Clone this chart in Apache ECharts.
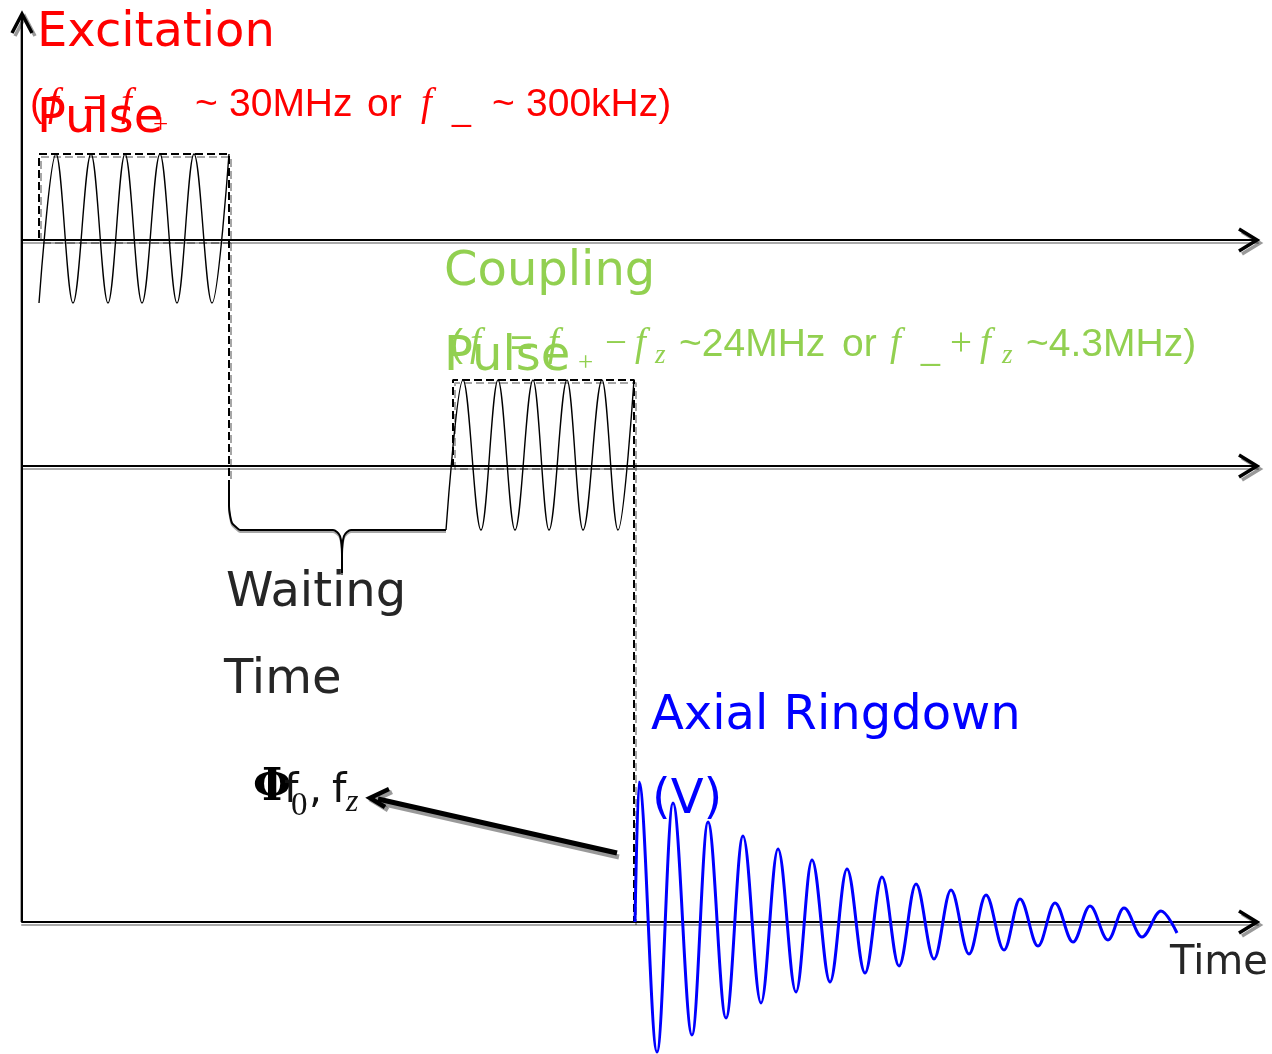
<!DOCTYPE html>
<html><head><meta charset="utf-8">
<script src="https://cdn.jsdelivr.net/npm/echarts@6/dist/echarts.min.js"></script>
<style>html,body{margin:0;padding:0;background:#fff}#c{width:1272px;height:1054px}</style>
</head><body><div id="c"></div>
<script>
// Time in arbitrary units (0 = origin of the time axis); amplitudes in arbitrary units above each trace's baseline.
const excitationWave = [[17,-63],[34,86],[51,-63],[69,86],[86,-63],[103,86],[120,-63],[138,86],[155,-63],[172,86],[190,-63],[207,86]];
const excitationEnvelope = [[207,0],[17,0],[17,86],[207,86],[207,-240]];
const waitingBraceLeft = [[207,-14],[207,-40],[208,-49],[210,-57],[214,-61],[218,-64],[311,-64],[315,-66],[318,-70],[319.5,-78],[320,-88],[320,-107]];
const waitingBraceRight = [[320,-107],[320,-88],[320.5,-78],[322,-70],[325,-66],[329,-64],[424,-64]];
const couplingWave = [[424,-64],[441,86],[459,-64],[476,86],[493,-64],[511,86],[527,-64],[545,86],[561,-64],[580,86],[596,-64],[612,86]];
const couplingEnvelope = [[612,0],[431,0],[431,86],[612,86],[612,-456]];
const ringdown = [[613,0],[617,140],[635,-130],[651,119],[670,-113],[686,100],[704,-96],[721,86],[739,-81],[756,73],[774,-70],[790,62],[808,-60],[825,53],[843,-51],[860,45],[877,-44],[894,38],[912,-37],[929,32],[947,-32],[964,27],[982,-28],[998,23],[1016,-24],[1033,19],[1051,-20],[1068,16],[1086,-18],[1102,14],[1120,-15],[1139,11],[1155,-11]];

const RED = '#ff0000', GREEN = '#92d050', BLUE = '#0000ff', DARK = '#262626';
const SANS = '"DejaVu Sans"', FSANS = '"Liberation Sans"', SERIF = '"Liberation Serif"';

function T(text, x, y, font, fill) {
  return {type:'text', x:x, y:y, silent:true, z:50,
    style:{text:text, font:font, fill:fill, align:'left', verticalAlign:'middle'}};
}
function chev(points, w) {
  return {type:'polyline', silent:true, z:60, shape:{points:points},
    style:{stroke:'#000', lineWidth:w || 3.5, fill:null, lineJoin:'miter',
      shadowColor:'rgba(0,0,0,0.4)', shadowOffsetX:3, shadowOffsetY:3}};
}

const big = '48px ' + SANS;
const fm = '39px ' + FSANS;
const fi = 'italic 39px ' + SERIF;
const fsub = 'italic 27px ' + SERIF;

const texts = [
  T('Excitation', 37, 34, big, RED),
  // red formula
  T('(', 30, 105, fm, RED), T('f', 48, 105, fi, RED), T('=', 83, 105, fm, RED),
  T('f', 121, 105, fi, RED), T('+', 153, 126, '27px ' + SERIF, RED),
  T('~', 195, 105, fm, RED), T('30MHz', 229, 105, fm, RED), T('or', 367, 105, fm, RED),
  T('f', 421, 105, fi, RED), T('_', 452, 111, '34px ' + FSANS, RED),
  T('~', 492, 105, fm, RED), T('300kHz)', 526, 105, fm, RED),
  T('Pulse', 37, 120, big, RED),

  T('Coupling', 444, 273, big, GREEN),
  // green formula
  T('(', 450, 345, fm, GREEN), T('f', 470, 345, fi, GREEN), T('=', 510, 345, fm, GREEN),
  T('f', 548, 345, fi, GREEN), T('+', 578, 364, '27px ' + SERIF, GREEN),
  T('\u2212', 605, 345, '39px ' + SERIF, GREEN), T('f', 635, 345, fi, GREEN), T('z', 655, 356, fsub, GREEN),
  T('~24MHz', 679, 345, fm, GREEN), T('or', 842, 345, fm, GREEN),
  T('f', 890, 345, fi, GREEN), T('_', 921, 350, '34px ' + FSANS, GREEN),
  T('+', 950, 345, '39px ' + SERIF, GREEN), T('f', 980, 345, fi, GREEN), T('z', 1002, 356, fsub, GREEN),
  T('~4.3MHz)', 1026, 345, fm, GREEN),
  T('Pulse', 444, 358, big, GREEN),

  T('Waiting', 226, 594, big, DARK),
  T('Time', 224, 681, big, DARK),

  T('Axial Ringdown', 651, 717, big, BLUE),
  T('(V)', 652, 801, big, BLUE),

  T('\u03A6', 253, 789, 'bold 44px "DejaVu Serif"', '#000'),
  T('f', 284, 791, '41px ' + SANS, '#111'),
  T('0', 291, 806, '33px ' + SERIF, '#111'),
  T(',', 309, 791, '41px ' + SANS, '#111'),
  T('f', 332, 791, '41px ' + SANS, '#111'),
  T('z', 346, 803, 'italic 32px ' + SERIF, '#111'),

  T('Time', 1170, 964, '40px ' + SANS, DARK)
];

const decor = [
  {type:'line', silent:true, z:40, shape:{x1:22, y1:15, x2:22, y2:922},
    style:{stroke:'#000', lineWidth:2, shadowColor:'#aaa', shadowOffsetX:-1, shadowOffsetY:0}},
  chev([[12,33],[22,14],[32,33]]),
  chev([[1239,229],[1257,240],[1239,251]]),
  chev([[1239,455],[1257,466],[1239,477]]),
  chev([[1239,911],[1257,922],[1239,933]]),
  {type:'line', silent:true, z:40, shape:{x1:617, y1:853, x2:378, y2:799},
    style:{stroke:'#000', lineWidth:5, shadowColor:'rgba(0,0,0,0.4)', shadowOffsetX:2, shadowOffsetY:4}},
  chev([[389,789],[370,798],[385,807]], 4.5)
];

const gridBase = {left:22, right:14, top:0, bottom:0};
const yRanges = [[-814,240],[-588,466],[-132,922]];

const xAxes = [0,1,2].map(i => ({gridIndex:i, type:'value', min:0, max:1236,
  axisLine:{show:true, onZero:true, lineStyle:{color:'#000', width:2, shadowColor:'#aaa', shadowOffsetY:3}},
  axisTick:{show:false}, axisLabel:{show:false}, splitLine:{show:false}}));
const yAxes = yRanges.map((r,i) => ({gridIndex:i, type:'value', min:r[0], max:r[1],
  axisLine:{show:false}, axisTick:{show:false}, axisLabel:{show:false}, splitLine:{show:false}}));

const base = {type:'line', symbol:'none', silent:true, clip:false, animation:false};
const dashStyle = {color:'#000', width:2, type:[8,4], shadowColor:'rgba(0,0,0,0.35)', shadowOffsetX:2, shadowOffsetY:3};
const waveStyle = {color:'#000', width:1.4};
const braceStyle = {color:'#000', width:2, shadowColor:'rgba(0,0,0,0.35)', shadowOffsetY:2};

const series = [
  Object.assign({}, base, {xAxisIndex:0, yAxisIndex:0, data:excitationEnvelope, lineStyle:dashStyle}),
  Object.assign({}, base, {xAxisIndex:0, yAxisIndex:0, data:excitationWave, smooth:0.36, smoothMonotone:'x', lineStyle:waveStyle}),
  Object.assign({}, base, {xAxisIndex:1, yAxisIndex:1, data:waitingBraceLeft, smooth:0.3, lineStyle:braceStyle}),
  Object.assign({}, base, {xAxisIndex:1, yAxisIndex:1, data:waitingBraceRight, smooth:0.3, lineStyle:braceStyle}),
  Object.assign({}, base, {xAxisIndex:1, yAxisIndex:1, data:couplingEnvelope, lineStyle:dashStyle}),
  Object.assign({}, base, {xAxisIndex:1, yAxisIndex:1, data:couplingWave, smooth:0.36, smoothMonotone:'x', lineStyle:waveStyle}),
  Object.assign({}, base, {xAxisIndex:2, yAxisIndex:2, data:ringdown, smooth:0.36, smoothMonotone:'x', lineStyle:{color:BLUE, width:3}})
];

const chart = echarts.init(document.getElementById('c'), null, {renderer:'canvas'});
chart.setOption({
  animation:false,
  backgroundColor:'#fff',
  grid:[Object.assign({},gridBase),Object.assign({},gridBase),Object.assign({},gridBase)],
  xAxis:xAxes, yAxis:yAxes, series:series,
  graphic:decor.concat(texts)
});
</script></body></html>
